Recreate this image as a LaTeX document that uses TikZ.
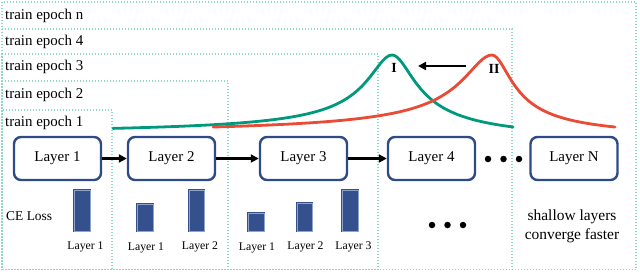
\documentclass[tikz,border=0pt]{standalone}
\usepackage{fontspec}
\setmainfont{Liberation Serif}
\usetikzlibrary{arrows.meta, positioning}

\definecolor{navyline}{HTML}{2E4A87}
\definecolor{barblue}{HTML}{34508D}
\definecolor{barlight}{HTML}{8FA3CF}
\definecolor{epochline}{HTML}{8ED9C6}
\definecolor{curvegreen}{HTML}{00997B}
\definecolor{curvered}{HTML}{E94B35}

\begin{document}
\begin{tikzpicture}[x=1bp, y=-1bp,
    epochbox/.style={draw=epochline, line width=1.4bp, dash pattern=on 1.4bp off 1.6bp},
    epochtext/.style={anchor=west, inner sep=0pt, font=\fontsize{15}{16}\selectfont},
    layerbox/.style={draw=navyline, line width=2.4bp, rounded corners=7bp, fill=white,
        minimum width=87bp, minimum height=43bp, inner sep=0pt, font=\fontsize{15}{16}\selectfont},
    lossbar/.style={fill=barblue, draw=barblue, double=barlight, double distance=0.5bp, line width=1.2bp},
    barlabel/.style={inner sep=0pt, font=\fontsize{11.8}{12}\selectfont},
    peaklabel/.style={inner sep=0pt, font=\fontsize{14}{14}\selectfont\bfseries},
    curve/.style={line width=2.8bp, line cap=round, line join=round},
    flow/.style={draw=black, line width=2.4bp, -{Triangle[length=8bp,width=8bp]}},
    dot/.style={circle, fill=black, inner sep=0pt, minimum size=6.5bp}]
        \useasboundingbox (0,0) rectangle (640,273);
        % Epochs
        \draw[epochbox] (2,2) rectangle (636,269.5);
        \draw[epochbox] (2,29) rectangle (512,269.5);
        \draw[epochbox] (2,54) rectangle (378,269.5);
        \draw[epochbox] (2,81) rectangle (228,269.5);
        \draw[epochbox] (2,110) rectangle (112,269.5);
        \node[epochtext] (epochn) at (5,16) {train epoch n};
        \node[epochtext] (epoch4) at (5,42) {train epoch 4};
        \node[epochtext] (epoch3) at (5,67) {train epoch 3};
        \node[epochtext] (epoch2) at (5,95) {train epoch 2};
        \node[epochtext] (epoch1) at (5,123) {train epoch 1};
        
        % Courbes
        \draw[curve, curvegreen]
            plot[domain=113:392, samples=90, variable=\x] (\x, {55+80*(1-1/sqrt(1+((\x-392)/23.2)^2))})
            -- plot[domain=392:513, samples=50, variable=\x] (\x, {55+88*(1-1/sqrt(1+((\x-392)/22.4)^2))});
        \draw[curve, curvered]
            plot[domain=213:492, samples=90, variable=\x] (\x, {55+80*(1-1/sqrt(1+((\x-492)/28)^2))})
            -- plot[domain=492:615, samples=50, variable=\x] (\x, {55+85*(1-1/sqrt(1+((\x-492)/19)^2))});
        \node[peaklabel] (peakI) at (394,68) {I};
        \node[peaklabel] (peakII) at (494,69) {II};
        \coordinate (shiftstart) at (466,66);
        \coordinate (shiftend) at (418,66);
        \draw[flow] (shiftstart) -- (shiftend);
        
        % Couches
        \node[layerbox] (layer1) at (57.5,158.5) {Layer 1};
        \node[layerbox] (layer2) at (171.5,158.5) {Layer 2};
        \node[layerbox] (layer3) at (303.5,158.5) {Layer 3};
        \node[layerbox] (layer4) at (431.5,158.5) {Layer 4};
        \node[layerbox] (layerN) at (574,158.5) {Layer N};
        \draw[flow] (layer1) -- (layer2);
        \draw[flow] (layer2) -- (layer3);
        \draw[flow] (layer3) -- (layer4);
        \node[dot] (dotA) at (488,159) {};
        \node[dot] (dotB) at (503.5,159) {};
        \node[dot] (dotC) at (519,159) {};
        
        % Pertes
        \node[anchor=west, inner sep=0pt, font=\fontsize{13.5}{14}\selectfont] (celoss) at (6,216) {CE Loss};
        \draw[lossbar] (74,190) rectangle (90,231);
        \draw[lossbar] (137,204) rectangle (153,231);
        \draw[lossbar] (189,190) rectangle (204,231);
        \draw[lossbar] (248,213) rectangle (264,231);
        \draw[lossbar] (297,203) rectangle (312,231);
        \draw[lossbar] (342,190) rectangle (358,231);
        \node[barlabel] (lossA) at (85.5,247) {Layer 1};
        \node[barlabel] (lossB) at (146,247.5) {Layer 1};
        \node[barlabel] (lossC) at (200,247) {Layer 2};
        \node[barlabel] (lossD) at (257,247.5) {Layer 1};
        \node[barlabel] (lossE) at (305.5,247) {Layer 2};
        \node[barlabel] (lossF) at (353.5,247) {Layer 3};
        \node[dot] (moreA) at (432,225) {};
        \node[dot] (moreB) at (447.5,225) {};
        \node[dot] (moreC) at (463,225) {};
        \node[align=center, inner sep=0pt, font=\fontsize{15.5}{19}\selectfont] (note) at (572,226.5) {shallow layers\\converge faster};
    \end{tikzpicture}
\end{document}
